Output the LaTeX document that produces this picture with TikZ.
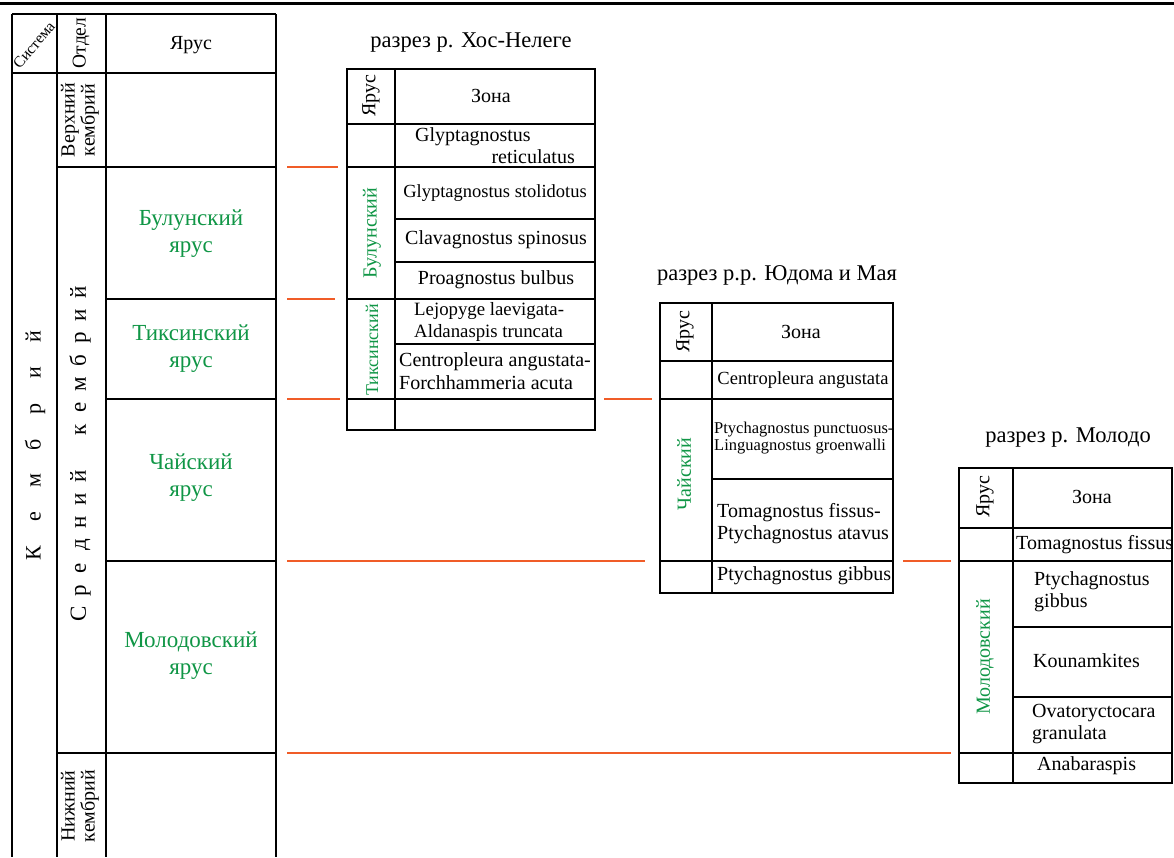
\documentclass[tikz,border=0pt]{standalone}
\usepackage{fontspec}
\setmainfont{Liberation Serif}
\definecolor{stagegreen}{RGB}{16,150,70}
\definecolor{corr}{RGB}{240,92,40}
\newlength\lspw
\newcommand\lsp[1]{\makebox[\lspw]{#1}}
\tikzset{
  tl/.style={line width=2pt, black},
  cl/.style={line width=2pt, corr},
  fs/.style={font=\fontsize{#1}{22}\selectfont},
  txt/.style={inner sep=0pt, font=\fontsize{20}{22}\selectfont},
  grn/.style={text=stagegreen},
  vert/.style={rotate=90},
  ttl/.style={inner sep=0pt, font=\fontsize{22.5}{25}\selectfont},
  stg/.style={inner sep=0pt, align=center, text=stagegreen, font=\fontsize{23}{27}\selectfont},
}
\begin{document}
\begin{tikzpicture}[x=1pt,y=-1pt]
\useasboundingbox (0,0) rectangle (1174,857);
\fill[white] (0,0) rectangle (1174,857);
% top rule
\draw[line width=3pt] (0,3) -- (1174,3);

% ===== left stratigraphic table =====
\draw[tl] (12,14) -- (276,14);
\draw[tl] (12,73) -- (276,73);
\draw[tl] (57,167) -- (276,167);
\draw[tl] (106,299) -- (276,299);
\draw[tl] (106,399) -- (276,399);
\draw[tl] (106,561) -- (276,561);
\draw[tl] (57,753) -- (276,753);
\draw[tl] (12,14) -- (12,857);
\draw[tl] (57,14) -- (57,857);
\draw[tl] (106,14) -- (106,857);
\draw[tl] (276,14) -- (276,857);

\node[inner sep=0pt, rotate=50, font=\fontsize{15.5}{17}\selectfont] (hsys) at (34,45) {Система};
\node[inner sep=0pt, rotate=90, font=\fontsize{19.5}{21}\selectfont] (hotd) at (81,43) {Отдел};
\node[txt] (hyar) at (191,45) {Ярус};
\node[inner sep=0pt, rotate=90, align=center, font=\fontsize{20}{20}\selectfont] (upper) at (80,120) {Верхний\\кембрий};
\node[inner sep=0pt, rotate=90, align=center, font=\fontsize{20}{20}\selectfont] (lower) at (80,806) {Нижний\\кембрий};
\node[inner sep=0pt, rotate=90, font=\fontsize{22}{24}\selectfont] (kemb) at (35,445)
  {\setlength\lspw{36pt}\lsp{К}\lsp{е}\lsp{м}\lsp{б}\lsp{р}\lsp{и}\lsp{й}};
\node[inner sep=0pt, rotate=90, font=\fontsize{23}{25}\selectfont] (sred) at (80,453)
  {\setlength\lspw{23pt}\lsp{С}\lsp{р}\lsp{е}\lsp{д}\lsp{н}\lsp{и}\lsp{й}\lsp{}\lsp{к}\lsp{е}\lsp{м}\lsp{б}\lsp{р}\lsp{и}\lsp{й}};
\node[stg] (sbul) at (191,234) {Булунский\\ярус};
\node[stg] (stik) at (191,349) {Тиксинский\\ярус};
\node[stg] (schai) at (191,478) {Чайский\\ярус};
\node[stg] (smol) at (191,656) {Молодовский\\ярус};

% ===== section: Khos-Nelege =====
\node[ttl] (t1) at (471,43) {разрез р. Хос-Нелеге};
\draw[tl] (347,69) rectangle (595,430);
\draw[tl] (395,69) -- (395,430);
\draw[tl] (347,124) -- (595,124);
\draw[tl] (347,167) -- (595,167);
\draw[tl] (395,219) -- (595,219);
\draw[tl] (395,262) -- (595,262);
\draw[tl] (347,299) -- (595,299);
\draw[tl] (395,344) -- (595,344);
\draw[tl] (347,399) -- (595,399);
\node[txt, rotate=90] (a1) at (371,96) {Ярус};
\node[txt] (a2) at (491,96) {Зона};
\node[txt, anchor=west] (a3) at (415,137) {Glyptagnostus};
\node[txt, anchor=east] (a4) at (575,157) {reticulatus};
\node[txt, fs=18.5] (a5) at (495,193) {Glyptagnostus stolidotus};
\node[txt] (a6) at (496,240) {Clavagnostus spinosus};
\node[txt] (a7) at (496,280) {Proagnostus bulbus};
\node[txt, anchor=west, align=left, fs=18.8] (a8) at (414,322) {Lejopyge laevigata-\\Aldanaspis truncata};
\node[txt, anchor=west, align=left, font=\fontsize{20}{23}\selectfont] (a9) at (399,371) {Centropleura angustata-\\Forchhammeria acuta};
\node[inner sep=0pt, rotate=90, grn, font=\fontsize{20}{22}\selectfont] (a10) at (372,233) {Булунский};
\node[inner sep=0pt, rotate=90, grn, font=\fontsize{18}{20}\selectfont] (a11) at (372,350) {Тиксинский};

% ===== section: Yudoma & Maya =====
\node[ttl] (t2) at (777,275) {разрез р.р. Юдома и Мая};
\draw[tl] (660,303) rectangle (893,593);
\draw[tl] (712,303) -- (712,593);
\draw[tl] (660,361) -- (893,361);
\draw[tl] (660,399) -- (893,399);
\draw[tl] (712,479) -- (893,479);
\draw[tl] (660,561) -- (893,561);
\node[txt, rotate=90] (b1) at (685,332) {Ярус};
\node[txt] (b2) at (801,332) {Зона};
\node[txt, fs=18.5] (b3) at (803,380) {Centropleura angustata};
\node[inner sep=0pt, anchor=west, align=left, font=\fontsize{16.5}{17}\selectfont] (b4) at (714,438) {Ptychagnostus punctuosus-\\Linguagnostus groenwalli};
\node[txt, anchor=west, align=left] (b5) at (717,524) {Tomagnostus fissus-\\Ptychagnostus atavus};
\node[txt, anchor=west] (b6) at (717,576) {Ptychagnostus gibbus};
\node[inner sep=0pt, rotate=90, grn, font=\fontsize{20}{22}\selectfont] (b7) at (684,474) {Чайский};

% ===== section: Molodo =====
\node[ttl] (t3) at (1068,438) {разрез р. Молодо};
\draw[tl] (959,468) rectangle (1172,783);
\draw[tl] (1013,468) -- (1013,783);
\draw[tl] (959,528) -- (1172,528);
\draw[tl] (959,561) -- (1172,561);
\draw[tl] (1013,627) -- (1172,627);
\draw[tl] (1013,697) -- (1172,697);
\draw[tl] (959,753) -- (1172,753);
\node[txt, rotate=90] (c1) at (985,497) {Ярус};
\node[txt] (c2) at (1092,497) {Зона};
\node[txt, anchor=west] (c3) at (1016,545) {Tomagnostus fissus};
\node[txt, anchor=west, align=left] (c4) at (1034,592) {Ptychagnostus\\gibbus};
\node[txt, anchor=west] (c5) at (1033,661) {Kounamkites};
\node[txt, anchor=west, align=left] (c6) at (1032,724) {Ovatoryctocara\\granulata};
\node[txt, anchor=west] (c7) at (1037,766) {Anabaraspis};
\node[inner sep=0pt, rotate=90, grn, font=\fontsize{20}{22}\selectfont] (c8) at (985,657) {Молодовский};

% ===== correlation lines =====
\coordinate (k1a) at (287,167); \coordinate (k1b) at (338,167);
\coordinate (k2a) at (287,299); \coordinate (k2b) at (335,299);
\coordinate (k3a) at (287,399); \coordinate (k3b) at (340,399);
\coordinate (k3c) at (604,399); \coordinate (k3d) at (652,399);
\coordinate (k4a) at (287,561); \coordinate (k4b) at (645,561);
\coordinate (k4c) at (903,561); \coordinate (k4d) at (951,561);
\coordinate (k5a) at (287,753); \coordinate (k5b) at (951,753);
\draw[cl] (k1a) -- (k1b);
\draw[cl] (k2a) -- (k2b);
\draw[cl] (k3a) -- (k3b);
\draw[cl] (k3c) -- (k3d);
\draw[cl] (k4a) -- (k4b);
\draw[cl] (k4c) -- (k4d);
\draw[cl] (k5a) -- (k5b);
\end{tikzpicture}
\end{document}
